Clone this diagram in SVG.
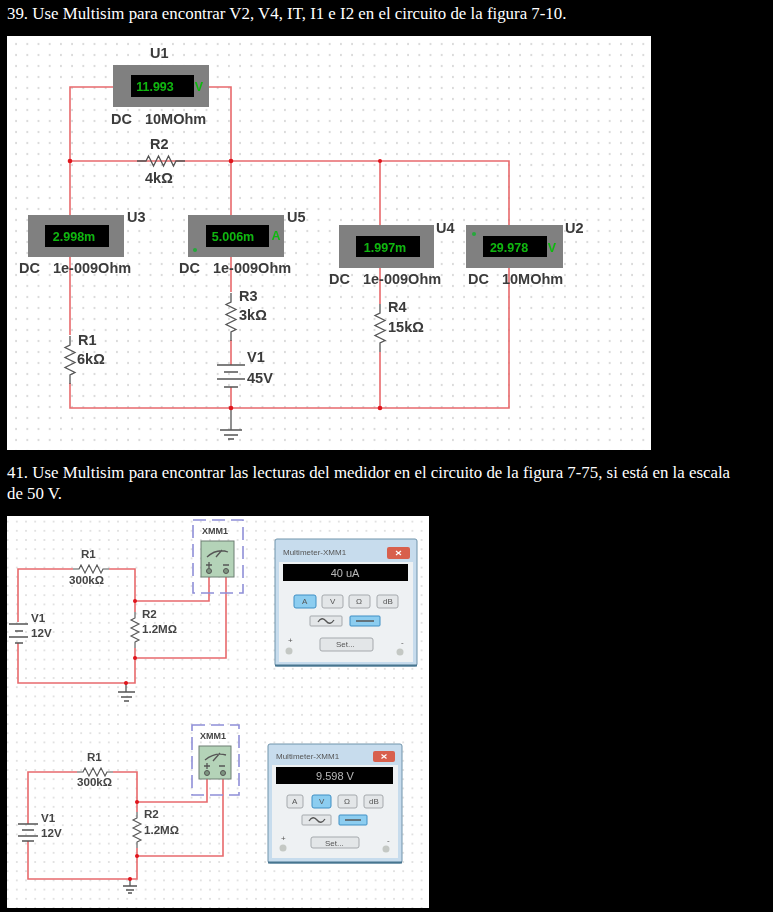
<svg xmlns="http://www.w3.org/2000/svg" width="773" height="912" viewBox="0 0 773 912">
<style>
.h{font-family:"Liberation Serif","Times New Roman",serif;font-size:16.85px;fill:#fff}
.l{font-family:"Liberation Sans",Arial,sans-serif;font-size:14.5px;font-weight:bold;fill:#3a3a3a}
.dc{word-spacing:9px}
.s{font-family:"Liberation Sans",Arial,sans-serif;font-size:11.6px;font-weight:bold;fill:#444}
.d{font-family:"Liberation Sans",Arial,sans-serif;font-size:12.5px;font-weight:bold;fill:#0fb80f;text-anchor:middle}
.w{fill:none;stroke:#e8696c;stroke-width:1.6}
.k{fill:none;stroke:#555;stroke-width:1.3}
.j{fill:#e0141c}
.m{fill:#808080}
.b{fill:#050505}
.g{fill:#25a83a}
.dash{fill:none;stroke:#8f8fd8;stroke-width:1.6;stroke-dasharray:13 6}
.mb{fill:#b4d3b8;stroke:#6d7f72;stroke-width:1}
.win{fill:#c7dced;stroke:#6f93ab;stroke-width:1}
.cl{fill:#d8604e}
.btn{fill:#e3e6e8;stroke:#a5a9ad;stroke-width:1}
.on{fill:#8ccdf0;stroke:#3f8fc4;stroke-width:1}
.t{font-family:"Liberation Sans",Arial,sans-serif;font-size:8px;fill:#555}
.r{font-family:"Liberation Sans",Arial,sans-serif;font-size:11px;fill:#b8b8b8;text-anchor:middle}
</style>
<defs>
<pattern id="g1" width="11.2" height="11" patternUnits="userSpaceOnUse" x="10.5" y="38.5"><circle cx="5.6" cy="5.5" r=".8" fill="#a8a8a8"/></pattern>
<pattern id="g2" width="9.2" height="9.2" patternUnits="userSpaceOnUse" x="3" y="517"><circle cx="4.6" cy="4.6" r=".7" fill="#b4b4b4"/></pattern>
<filter id="soft" x="-5%" y="-5%" width="110%" height="110%"><feGaussianBlur stdDeviation=".45"/></filter>
<path id="rv" d="M0 0V9L-5 11.5 5 16.5 -5 21.5 5 26.5 -5 31.5 5 36.5 0 39V48" fill="none" stroke="#555" stroke-width="1.3"/>
<path id="rh" d="M0 0H9L11.5 -5 16.5 5 21.5 -5 26.5 5 31.5 -5 36.5 5 39 0H48" fill="none" stroke="#555" stroke-width="1.3"/>
<path id="rvs" d="M0 0V6L-4 8 4 12 -4 16 4 20 -4 24 4 28 0 30V36" fill="none" stroke="#555" stroke-width="1.1"/>
<path id="rhs" d="M0 0H6L8 -4 12 4 16 -4 20 4 24 -4 28 4 30 0H36" fill="none" stroke="#555" stroke-width="1.1"/>
<path id="x" d="M-2.5 -2 2.5 2M2.5 -2 -2.5 2" fill="none" stroke="#fff" stroke-width="1.2"/>
</defs>
<rect width="773" height="912" fill="#000"/>
<text class="h" x="7" y="19">39. Use Multisim para encontrar V2, V4, IT, I1 e I2 en el circuito de la figura 7-10.</text>
<text class="h" x="7" y="478">41. Use Multisim para encontrar las lecturas del medidor en el circuito de la figura 7-75, si está en la escala</text>
<text class="h" x="7" y="499">de 50 V.</text>

<rect x="7" y="36" width="644" height="414" fill="#fff"/>
<rect x="7" y="36" width="644" height="414" fill="url(#g1)"/>
<rect x="7" y="516" width="422" height="392" fill="#fff"/>
<rect x="7" y="516" width="422" height="392" fill="url(#g2)"/>

<g filter="url(#soft)">
<g id="connectors">
<path class="w" d="M113 87H70V215M70 257V335M70 383V408H509V268M509 225V161H70M209 87H231V215M231 257V292M231 340V365M231 387V408M380 161V225M380 268V304M380 352V408"/>
<path class="k" d="M231 408V430"/>
<path class="w" d="M73 569H18V622M18 643V683H135V648M135 612V569H109M135 601H209V577M135 658H226V577"/>
<path class="k" d="M126 683V692"/>
<path class="w" d="M77 772H28V824M28 841V879H137V848M137 812V772H113M137 802H207V779M137 856H223V779"/>
<path class="k" d="M130 879V886"/>
<g class="j">
<circle cx="70" cy="161" r="2.3"/><circle cx="231" cy="161" r="2.3"/><circle cx="380" cy="161" r="2"/>
<circle cx="231" cy="408" r="2.3"/><circle cx="380" cy="408" r="2.3"/>
<circle cx="135" cy="601" r="2"/><circle cx="135" cy="658" r="2"/><circle cx="126" cy="683" r="2"/>
<circle cx="137" cy="802" r="2"/><circle cx="137" cy="856" r="2"/><circle cx="130" cy="879" r="2"/>
</g>
</g>

<g id="U1"><rect class="m" x="113" y="65" width="96" height="42"/><rect class="b" x="131" y="75" width="63" height="22"/><text class="d" x="155" y="91">11.993</text><text x="199" y="91" class="d">V</text><text class="l" x="150" y="58">U1</text><text class="l dc" x="111" y="124">DC 10MOhm</text></g>
<g id="R2"><use href="#rh" x="137" y="161"/><text class="l" x="150" y="149">R2</text><text class="l" x="145" y="183">4kΩ</text></g>
<g id="U3"><rect class="m" x="28" y="215" width="96" height="42"/><rect class="b" x="45" y="225" width="64" height="22"/><text class="d" x="74" y="241">2.998m</text><text class="l" x="127" y="222">U3</text><text class="l dc" x="19" y="273">DC 1e-009Ohm</text></g>
<g id="U5"><rect class="m" x="188" y="215" width="96" height="42"/><rect class="b" x="206" y="225" width="63" height="22"/><text class="d" x="233" y="241">5.006m</text><text class="d" x="276" y="240">A</text><circle class="g" cx="195" cy="250" r="2"/><text class="l" x="287" y="222">U5</text><text class="l dc" x="179" y="273">DC 1e-009Ohm</text></g>
<g id="U4"><rect class="m" x="339" y="225" width="95" height="43"/><rect class="b" x="356" y="236" width="64" height="21"/><text class="d" x="385" y="252">1.997m</text><text class="l" x="436" y="233">U4</text><text class="l dc" x="329" y="284">DC 1e-009Ohm</text></g>
<g id="U2"><rect class="m" x="466" y="225" width="97" height="43"/><rect class="b" x="483" y="236" width="64" height="21"/><text class="d" x="509" y="252">29.978</text><text class="d" x="552" y="252">V</text><circle class="g" cx="474" cy="234" r="2"/><text class="l" x="565" y="233">U2</text><text class="l dc" x="468" y="284">DC 10MOhm</text></g>
<g id="R1"><use href="#rv" x="70" y="336"/><text class="l" x="78" y="345">R1</text><text class="l" x="77" y="364">6kΩ</text></g>
<g id="R3"><use href="#rv" x="231" y="293"/><text class="l" x="239" y="301">R3</text><text class="l" x="239" y="320">3kΩ</text></g>
<g id="R4"><use href="#rv" x="380" y="304"/><text class="l" x="388" y="312">R4</text><text class="l" x="388" y="332">15kΩ</text></g>
<g id="V1"><path class="k" d="M217 365H245M224 372H238M217 379H245M224 387H238"/><text class="l" x="247" y="362">V1</text><text class="l" x="247" y="383">45V</text></g>
<g id="GND1"><path class="k" d="M220 430H242M224 435H238M228 439H234"/></g>

<g id="XMM1a"><rect class="dash" x="193" y="520" width="50" height="73"/><text class="s" x="202" y="534" style="font-size:9px">XMM1</text><rect class="mb" x="201" y="541" width="33" height="36"/><path class="k" d="M207 557Q217 548 228 552M216 557L222 550"/><path class="k" d="M206 565H212M223 565H229M209 562V568"/><circle cx="209" cy="571" r="2.5" fill="#7d9580" stroke="#555"/><circle cx="226" cy="571" r="2.5" fill="#7d9580" stroke="#555"/></g>
<g id="R1a"><use href="#rhs" x="73" y="569"/><text class="s" x="81" y="558">R1</text><text class="s" x="69" y="584">300kΩ</text></g>
<g id="R2a"><use href="#rvs" x="135" y="612"/><text class="s" x="142" y="618">R2</text><text class="s" x="142" y="633">1.2MΩ</text></g>
<g id="V1a"><path class="k" d="M9 624H28M15 631H23M9 637H28M15 643H23"/><text class="s" x="31" y="622">V1</text><text class="s" x="31" y="637">12V</text></g>
<g id="GNDa"><path class="k" d="M118 692H135M121 697H132M124 701H129"/></g>

<g id="MM1"><rect class="win" x="275" y="539" width="142" height="127" rx="2"/><rect x="279" y="562" width="134" height="100" fill="#eef1f3"/><path d="M275 665.5H417" stroke="#47758f" stroke-width="2"/><text class="t" x="283" y="555">Multimeter-XMM1</text><rect class="cl" x="387" y="547" width="23" height="12" rx="2"/><use href="#x" x="398.500" y="553"/><rect class="b" x="283" y="564" width="125" height="17"/><text class="r" x="345" y="577">40 uA</text>
<rect class="on" x="294" y="595" width="22" height="13" rx="2"/><rect class="btn" x="322" y="595" width="21" height="13" rx="2"/><rect class="btn" x="349" y="595" width="21" height="13" rx="2"/><rect class="btn" x="377" y="595" width="21" height="13" rx="2"/>
<text class="t" x="302" y="604">A</text><text class="t" x="330" y="604">V</text><text class="t" x="356" y="604">Ω</text><text class="t" x="383" y="604">dB</text>
<rect class="btn" x="310" y="616" width="32" height="10" rx="1"/><rect class="on" x="350" y="616" width="30" height="10" rx="1"/><path class="k" d="M318 622Q322 616 326 621T334 620M356 621H374"/>
<rect class="btn" x="320" y="638" width="53" height="13" rx="2"/><text class="t" x="336" y="647">Set...</text>
<text class="t" x="288" y="643">+</text><text class="t" x="401" y="645">-</text><circle cx="289" cy="651" r="3.5" fill="#c4c8c4"/><circle cx="400" cy="652" r="3.5" fill="#c4c8c4"/></g>

<g id="XMM1b"><rect class="dash" x="192" y="725" width="47" height="70"/><text class="s" x="200" y="739" style="font-size:9px">XMM1</text><rect class="mb" x="199" y="746" width="32" height="33"/><path class="k" d="M205 760Q215 752 226 755M213 761L220 753"/><path class="k" d="M204 766H210M219 766H225M207 763V769"/><circle cx="207" cy="773" r="2.5" fill="#7d9580" stroke="#555"/><circle cx="223" cy="773" r="2.5" fill="#7d9580" stroke="#555"/></g>
<g id="R1b"><use href="#rhs" x="77" y="772"/><text class="s" x="87" y="761">R1</text><text class="s" x="77" y="786">300kΩ</text></g>
<g id="R2b"><use href="#rvs" x="137" y="812"/><text class="s" x="144" y="818">R2</text><text class="s" x="144" y="834">1.2MΩ</text></g>
<g id="V1b"><path class="k" d="M18 824H38M22 830H34M18 836H38M22 841H34"/><text class="s" x="41" y="822">V1</text><text class="s" x="41" y="837">12V</text></g>
<g id="GNDb"><path class="k" d="M123 886H137M126 890H134M128 893H132"/></g>

<g id="MM2"><rect class="win" x="268" y="744" width="134" height="119" rx="2"/><rect x="272" y="765" width="126" height="93" fill="#eef1f3"/><path d="M268 862.500H402" stroke="#47758f" stroke-width="2"/><text class="t" x="276" y="759">Multimeter-XMM1</text><rect class="cl" x="373" y="751" width="22" height="11" rx="2"/><use href="#x" x="384" y="756.500"/><rect class="b" x="276" y="767" width="117" height="17"/><text class="r" x="335" y="780">9.598 V</text>
<rect class="btn" x="287" y="795" width="16" height="13" rx="2"/><rect class="on" x="312" y="795" width="19" height="13" rx="2"/><rect class="btn" x="338" y="795" width="19" height="13" rx="2"/><rect class="btn" x="364" y="795" width="19" height="13" rx="2"/>
<text class="t" x="292" y="804">A</text><text class="t" x="319" y="804">V</text><text class="t" x="344" y="804">Ω</text><text class="t" x="369" y="804">dB</text>
<rect class="btn" x="302" y="815" width="29" height="10" rx="1"/><rect class="on" x="339" y="815" width="28" height="10" rx="1"/><path class="k" d="M309 821Q313 815 317 820T325 819M345 820H361"/>
<rect class="btn" x="311" y="837" width="48" height="11" rx="2"/><text class="t" x="325" y="846">Set...</text>
<text class="t" x="281" y="841">+</text><text class="t" x="387" y="843">-</text><circle cx="283" cy="848" r="3.5" fill="#c4c8c4"/><circle cx="386" cy="849" r="3.5" fill="#c4c8c4"/></g>
</g>
</svg>
